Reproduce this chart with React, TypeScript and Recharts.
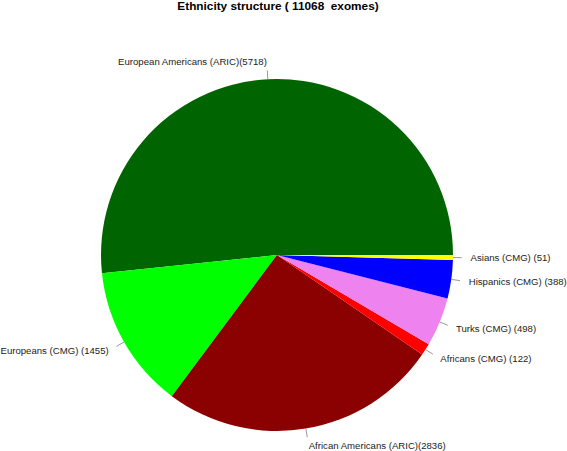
import React from 'react';
import { PieChart, Pie, Cell } from 'recharts';

const groups = [
  'European Americans (ARIC)(5718)',
  'Europeans (CMG) (1455)',
  'African Americans (ARIC)(2836)',
  'Africans (CMG) (122)',
  'Turks (CMG) (498)',
  'Hispanics (CMG) (388)',
  'Asians (CMG) (51)',
];
const counts = [5718, 1455, 2836, 122, 498, 388, 51];
const colors = ['#006400', '#00FF00', '#8B0000', '#FF0000', '#EE82EE', '#0000FF', '#FFFF00'];

const data = groups.map((name, i) => ({ name, value: counts[i] }));

const RAD = Math.PI / 180;
const FONT = '"Liberation Sans", Arial, sans-serif';

// R-style labels: short tick from r to 1.05r, text at 1.1r
const renderLabel = (props: any) => {
  const { cx, cy, midAngle, outerRadius, name } = props;
  const cos = Math.cos(-midAngle * RAD);
  const sin = Math.sin(-midAngle * RAD);
  const x1 = cx + outerRadius * cos;
  const y1 = cy + outerRadius * sin;
  const x2 = cx + outerRadius * 1.05 * cos;
  const y2 = cy + outerRadius * 1.05 * sin;
  const tx = cx + outerRadius * 1.1 * cos;
  const ty = cy + outerRadius * 1.1 * sin;
  return (
    <g>
      <line x1={x1} y1={y1} x2={x2} y2={y2} stroke="#999" strokeWidth={1} />
      <text
        x={tx}
        y={ty}
        textAnchor={cos < 0 ? 'end' : 'start'}
        dominantBaseline="central"
        fontSize={9.6}
        fontFamily={FONT}
        fill="#222"
      >
        {name}
      </text>
    </g>
  );
};

export default function App() {
  return (
    <div style={{ position: 'absolute', left: 0, top: 0, width: 567, height: 451, background: '#fff' }}>
      <PieChart width={567} height={451} margin={{ top: 0, right: 0, bottom: 0, left: 0 }}>
        <text
          x={278}
          y={10}
          textAnchor="middle"
          fontSize={11.8}
          fontWeight="bold"
          fontFamily={FONT}
          style={{ whiteSpace: 'pre' }}
        >
          {'Ethnicity structure ( 11068  exomes)'}
        </text>
        <Pie
          data={data}
          dataKey="value"
          nameKey="name"
          cx={277}
          cy={255}
          outerRadius={176}
          startAngle={0}
          endAngle={360}
          stroke="none"
          label={renderLabel}
          labelLine={false}
          isAnimationActive={false}
        >
          {data.map((d, i) => (
            <Cell key={d.name} fill={colors[i]} />
          ))}
        </Pie>
      </PieChart>
    </div>
  );
}
